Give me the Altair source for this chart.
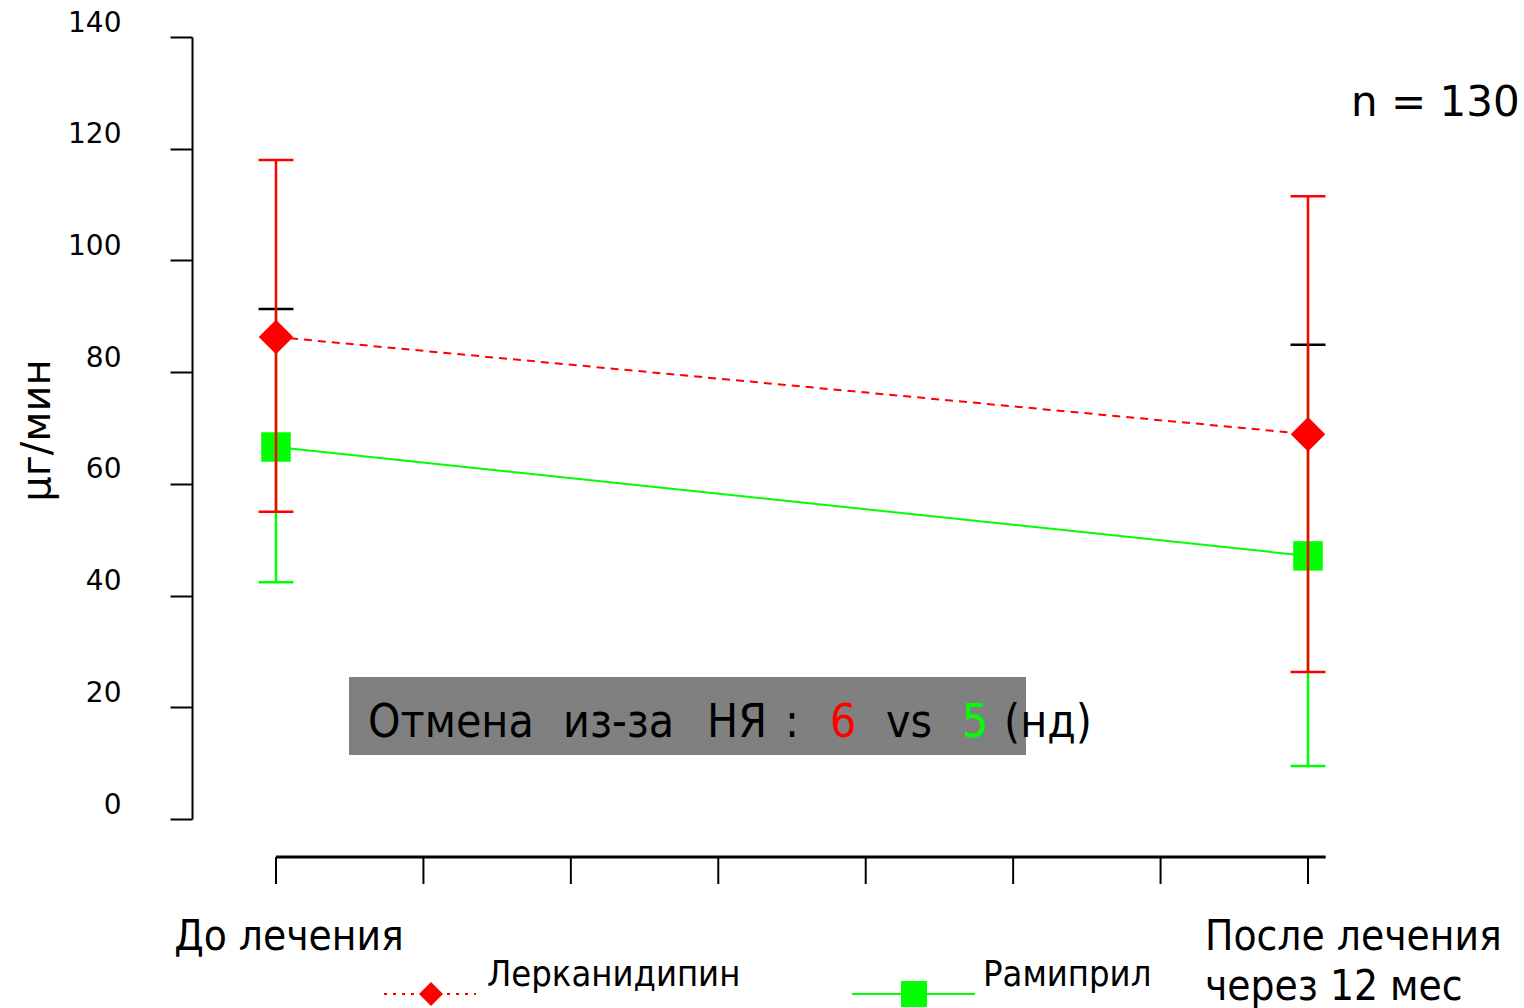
import altair as alt
import pandas as pd

# ---------------- data ----------------
stage_labels = ["До лечения", "После лечения\nчерез 12 мес"]
stage_x = [0, 7]
visit_ticks = [0, 1, 2, 3, 4, 5, 6, 7]

lerc_mean = [86.3, 68.9]
lerc_low = [55.0, 26.3]
lerc_high = [118.0, 111.5]

rami_mean = [66.6, 47.1]
rami_low = [42.4, 9.5]
rami_high = [91.3, 84.9]

y_ticks = [0, 20, 40, 60, 80, 100, 120, 140]
series_names = ["Лерканидипин", "Рамиприл"]
n_patients = 130
withdrawals = [6, 5]

# ---------------- styling ----------------
RED = "#ff0000"
GREEN = "#00ff00"
GRAY = "#808080"
NUM_FONT = "DejaVu Sans"
TXT_FONT = "DejaVu Sans Condensed"

W, H = 1524, 1008
LEFT, TOP, BASE = 192, 37, 819
PLOT_W, PLOT_H = W - LEFT, BASE - TOP

# x: visit 0 sits at 276px, visit 7 at 1308px of the page
unit = (1308 - 276) / 7
x_scale = alt.Scale(domain=[-(276 - LEFT) / unit, (W - 276) / unit], nice=False, zero=False)
y_scale = alt.Scale(domain=[0, 140], nice=False, zero=False)


def px(x):
    return x - LEFT


def py(y):
    return y - TOP


lerc = pd.DataFrame({"x": stage_x, "mean": lerc_mean, "low": lerc_low, "high": lerc_high})
rami = pd.DataFrame({"x": stage_x, "mean": rami_mean, "low": rami_low, "high": rami_high})

X = alt.X("x:Q", scale=x_scale, axis=None)

y_axis = alt.Axis(
    values=y_ticks, grid=False,
    domain=True, domainColor="black", domainWidth=2,
    ticks=True, tickSize=22, tickWidth=2, tickColor="black",
    labelFont=NUM_FONT, labelFontSize=28, labelColor="black",
    labelPadding=49, labelBaseline="middle", labelOffset=-14,
    title="μг/мин", titleFont=NUM_FONT, titleFontSize=40, titleFontWeight="normal",
    titleColor="black", titleAngle=-90, titleAlign="center", titleBaseline="middle",
    titleX=37 - LEFT, titleY=py(430),
)


def Y(field):
    # every layer shares one y axis definition so the merged axis is kept
    return alt.Y(field, scale=y_scale, axis=y_axis)


cap_shape = "M -1 0 L 1 0"

# annotation box
box = alt.Chart(pd.DataFrame({"k": [0]})).mark_rect(color=GRAY).encode(
    x=alt.value(px(349)), x2=alt.value(px(1026)),
    y=alt.value(py(677)), y2=alt.value(py(755)),
)

# Рамиприл
rami_line = alt.Chart(rami).mark_line(color=GREEN, strokeWidth=2).encode(x=X, y=Y("mean:Q"))
rami_err = alt.Chart(rami).mark_rule(color=GREEN, strokeWidth=2.5).encode(
    x=X, y=Y("low:Q"), y2="high:Q"
)
rami_cap_low = alt.Chart(rami).mark_point(
    shape=cap_shape, filled=False, color=GREEN, strokeWidth=2.5, size=1225, opacity=1
).encode(x=X, y=Y("low:Q"))
rami_cap_high = alt.Chart(rami).mark_point(
    shape=cap_shape, filled=False, color="black", strokeWidth=2.5, size=1225, opacity=1
).encode(x=X, y=Y("high:Q"))
rami_pts = alt.Chart(rami).mark_point(
    shape="square", filled=True, color=GREEN, size=870, opacity=1
).encode(x=X, y=Y("mean:Q"))

# Лерканидипин
lerc_err = alt.Chart(lerc).mark_rule(color=RED, strokeWidth=2.5).encode(
    x=X, y=Y("low:Q"), y2="high:Q"
)
lerc_caps = alt.Chart(lerc).transform_fold(["low", "high"], as_=["end", "v"]).mark_point(
    shape=cap_shape, filled=False, color=RED, strokeWidth=2.5, size=1225, opacity=1
).encode(x=X, y=Y("v:Q"))
lerc_line = alt.Chart(lerc).mark_line(color=RED, strokeWidth=2, strokeDash=[8, 6]).encode(
    x=X, y=Y("mean:Q")
)
lerc_pts = alt.Chart(lerc).mark_point(
    shape="diamond", filled=True, color=RED, size=1190, opacity=1
).encode(x=X, y=Y("mean:Q"))

# detached visit axis below the plot
ticks_df = pd.DataFrame({"x": visit_ticks})
x_domain = alt.Chart(pd.DataFrame({"x": [visit_ticks[0]], "x2": [visit_ticks[-1] + 0.12]})).mark_rule(
    color="black", strokeWidth=3
).encode(x=X, x2="x2:Q", y=alt.value(py(857)))
x_ticks = alt.Chart(ticks_df).mark_rule(color="black", strokeWidth=2).encode(
    x=X, y=alt.value(py(857)), y2=alt.value(py(884))
)

stage_df = pd.DataFrame({"x": stage_x, "label": stage_labels})
stage_first = alt.Chart(stage_df.iloc[[0]]).mark_text(
    font=TXT_FONT, fontSize=42, color="black", align="center", baseline="alphabetic", dx=13
).encode(x=X, y=alt.value(py(950)), text="label:N")
stage_last = alt.Chart(stage_df.iloc[[1]]).mark_text(
    font=TXT_FONT, fontSize=42, color="black", align="left", baseline="alphabetic",
    dx=-103, lineBreak="\n", lineHeight=50
).encode(x=X, y=alt.value(py(950)), text="label:N")

# n label
n_text = alt.Chart(pd.DataFrame({"t": [f"n = {n_patients}"]})).mark_text(
    font=NUM_FONT, fontSize=42, color="black", align="left", baseline="alphabetic"
).encode(x=alt.value(px(1351)), y=alt.value(py(116)), text="t:N")

# withdrawal note, piece by piece
note_text = ["Отмена", "из-за", "НЯ", ":", str(withdrawals[0]), "vs", str(withdrawals[1]), "(нд)"]
note_color = ["black", "black", "black", "black", RED, "black", GREEN, "black"]
note_left = [368, 563, 707, 785, 830, 886, 962, 1004]
note_layers = [
    alt.Chart(pd.DataFrame({"t": [t]})).mark_text(
        font=TXT_FONT, fontSize=46, color=c, align="left", baseline="alphabetic"
    ).encode(x=alt.value(px(xl)), y=alt.value(py(737)), text="t:N")
    for t, c, xl in zip(note_text, note_color, note_left)
]

# legend
one = pd.DataFrame({"k": [0]})
leg_red_line = alt.Chart(one).mark_rule(color=RED, strokeWidth=2, strokeDash=[3, 6]).encode(
    x=alt.value(px(384)), x2=alt.value(px(476)), y=alt.value(py(994))
)
leg_red_pt = alt.Chart(one).mark_point(shape="diamond", filled=True, color=RED, size=576, opacity=1).encode(
    x=alt.value(px(431)), y=alt.value(py(994))
)
leg_green_line = alt.Chart(one).mark_rule(color=GREEN, strokeWidth=2).encode(
    x=alt.value(px(852)), x2=alt.value(px(975)), y=alt.value(py(994))
)
leg_green_pt = alt.Chart(one).mark_point(shape="square", filled=True, color=GREEN, size=676, opacity=1).encode(
    x=alt.value(px(914)), y=alt.value(py(994))
)
leg_left = [487, 983]
leg_texts = [
    alt.Chart(pd.DataFrame({"t": [name]})).mark_text(
        font=TXT_FONT, fontSize=36, color="black", align="left", baseline="middle"
    ).encode(x=alt.value(px(xl)), y=alt.value(py(975)), text="t:N")
    for name, xl in zip(series_names, leg_left)
]

chart = alt.layer(
    box,
    rami_line, rami_err, rami_cap_low, rami_cap_high, rami_pts,
    lerc_err, lerc_caps, lerc_line, lerc_pts,
    x_domain, x_ticks, stage_first, stage_last, n_text,
    *note_layers,
    leg_red_line, leg_red_pt, leg_green_line, leg_green_pt,
    *leg_texts,
).properties(
    width=PLOT_W, height=PLOT_H,
    padding={"left": LEFT, "top": TOP, "right": 0, "bottom": H - BASE},
    autosize=alt.AutoSizeParams(type="none"),
    background="white",
).configure_view(stroke=None)

chart.save("out.html", embed_options={"renderer": "svg", "actions": False})
